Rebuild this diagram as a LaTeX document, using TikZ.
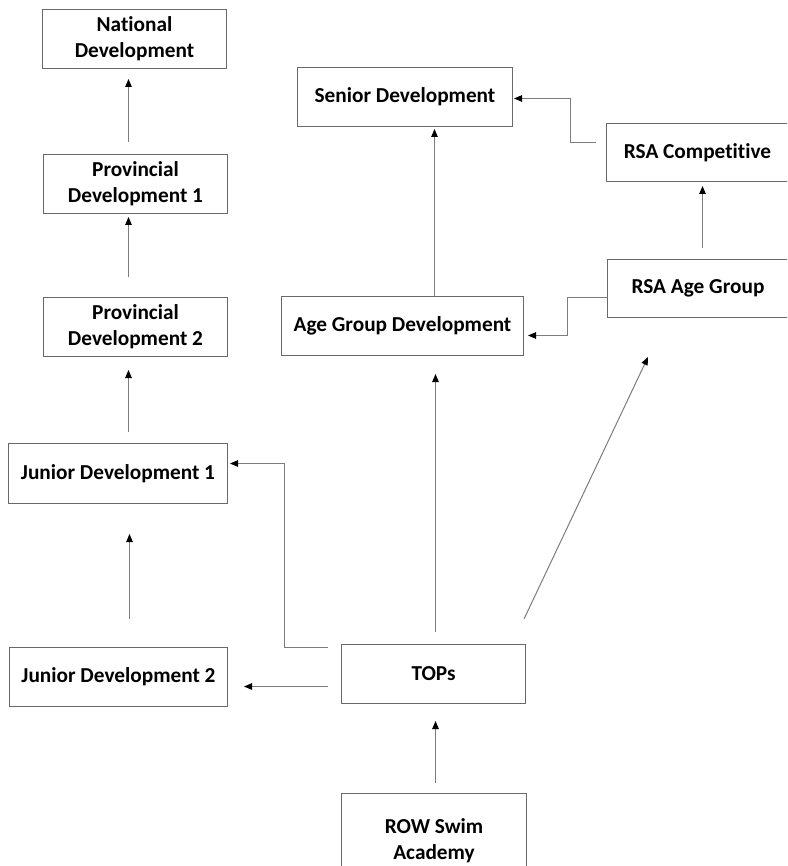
\documentclass[tikz,border=0pt]{standalone}
\usepackage{fontspec}
\setmainfont{Carlito}[Ligatures=NoCommon]
\usetikzlibrary{arrows.meta}
\definecolor{boxline}{RGB}{105,105,105}
\definecolor{conline}{RGB}{125,125,125}
\begin{document}
\begin{tikzpicture}[x=1pt,y=-1pt,
  box/.style={draw=boxline, line width=1pt, fill=white, inner sep=0pt, anchor=north west,
    align=center, font=\fontsize{21.3}{26}\selectfont\bfseries},
  arr/.style={draw=conline, line width=1pt, -{Triangle[length=8pt,width=6.5pt,color=black]}}]
\useasboundingbox (0,0) rectangle (787,866);
\clip (0,0) rectangle (787,866);
\fill[white] (0,0) rectangle (787,866);

% boxes
\node[box, minimum width=184pt, minimum height=59pt] (nat) at (42,9) {National\\Development};
\node[box, minimum width=184pt, minimum height=59pt] (prov1) at (43,154) {Provincial\\Development 1};
\node[box, minimum width=184pt, minimum height=59pt] (prov2) at (43,297) {Provincial\\Development 2};
\node[box, minimum width=219pt, minimum height=60pt] (jd1) at (8,443) {Junior Development 1};
\node[box, minimum width=218pt, minimum height=59pt] (jd2) at (9,647) {Junior Development 2};
\node[box, minimum width=184pt, minimum height=59pt] (tops) at (341,644) {TOPs};
\node[box, minimum width=185pt, minimum height=94pt] (row) at (341,793) {ROW Swim\\Academy};
\node[box, minimum width=242pt, minimum height=59pt] (agd) at (281,296) {Age Group Development};
\node[box, minimum width=215pt, minimum height=59pt] (senior) at (297,67) {Senior Development};
\node[box, minimum width=182pt, minimum height=58pt] (rsacomp) at (606,123) {RSA Competitive};
\node[box, minimum width=181pt, minimum height=58pt] (rsaag) at (607,259) {RSA Age Group};

\coordinate (dend) at (648,357);

% left column
\draw[arr, shorten <=12pt, shorten >=10pt] ([xshift=-7pt]prov1.north) -- ([xshift=-6pt]nat.south);
\draw[arr, shorten <=20pt, shorten >=3pt] ([xshift=-7pt]prov2.north) -- ([xshift=-7pt]prov1.south);
\draw[arr, shorten <=11pt, shorten >=13pt] ([xshift=10.5pt]jd1.north) -- ([xshift=-7pt]prov2.south);
\draw[arr, shorten <=28pt, shorten >=30pt] ([xshift=11pt]jd2.north) -- ([xshift=11.5pt]jd1.south);

% from TOPs
\draw[arr, shorten <=13pt, shorten >=16pt] ([yshift=-12.5pt]tops.west) -- ([yshift=-9.5pt]jd2.east);
\draw[arr] ([xshift=-13pt,yshift=-3pt]tops.north west) -- ++(-44,0) |- ([xshift=2pt,yshift=10pt]jd1.east);
\draw[arr, shorten <=12pt, shorten >=18pt] ([xshift=2pt]tops.north) -- ([xshift=33pt]agd.south);
\draw[arr] ([xshift=-2pt,yshift=25pt]tops.north east) -- (dend);
\draw[arr, shorten <=10pt, shorten >=17pt] ([xshift=1.5pt]row.north) -- ([xshift=2pt]tops.south);

% right part
\draw[arr] ([xshift=32pt]agd.north) -- ([xshift=29.5pt,yshift=-2pt]senior.south);
\draw[arr, shorten <=11pt, shorten >=4pt] ([xshift=4.5pt]rsaag.north) -- ([xshift=5pt]rsacomp.south);
\draw[arr] ([xshift=-10pt,yshift=10pt]rsacomp.west) -- ++(-26,0) |- ([xshift=1pt,yshift=-1.5pt]senior.east);
\draw[arr] ([yshift=-9pt]rsaag.west) -- ++(-40,0) |- ([xshift=4pt,yshift=-9.5pt]agd.east);
\end{tikzpicture}
\end{document}
